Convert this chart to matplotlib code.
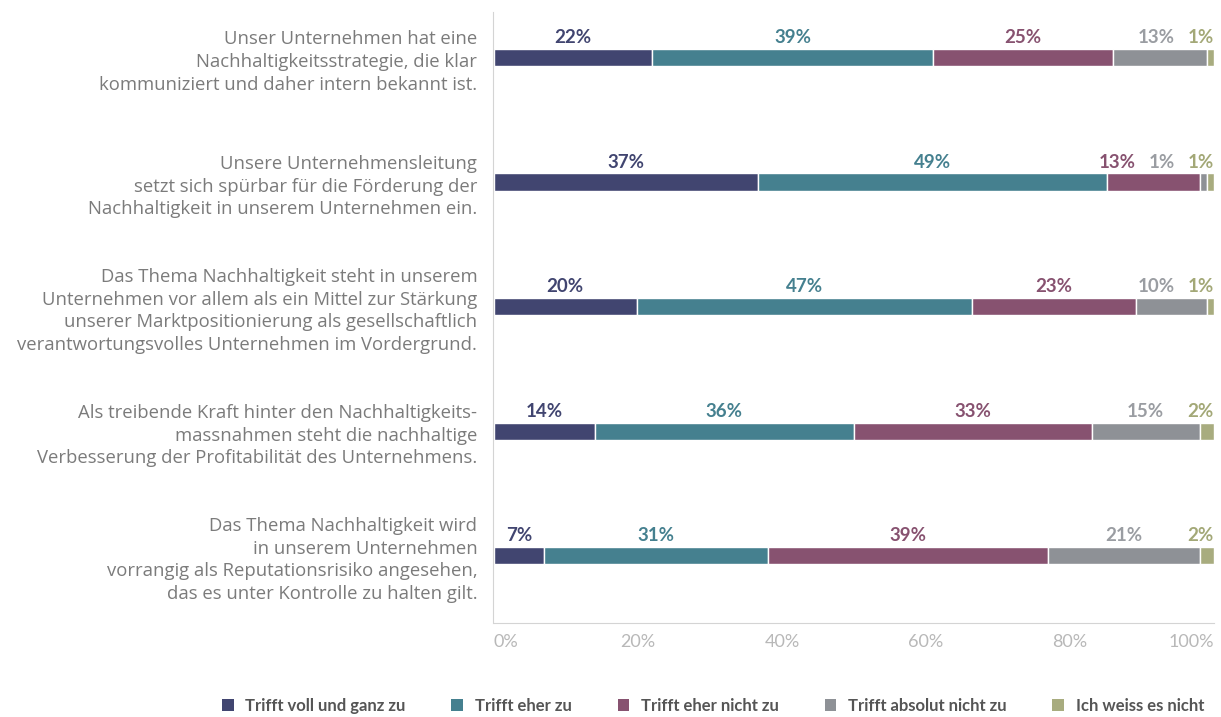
import numpy as np
import matplotlib.pyplot as plt
from matplotlib.patches import Patch

statements = [
    "Unser Unternehmen hat eine\nNachhaltigkeitsstrategie, die klar\nkommuniziert und daher intern bekannt ist.",
    "Unsere Unternehmensleitung\nsetzt sich spürbar für die Förderung der\nNachhaltigkeit in unserem Unternehmen ein.",
    "Das Thema Nachhaltigkeit steht in unserem\nUnternehmen vor allem als ein Mittel zur Stärkung\nunserer Marktpositionierung als gesellschaftlich\nverantwortungsvolles Unternehmen im Vordergrund.",
    "Als treibende Kraft hinter den Nachhaltigkeits-\nmassnahmen steht die nachhaltige\nVerbesserung der Profitabilität des Unternehmens.",
    "Das Thema Nachhaltigkeit wird\nin unserem Unternehmen\nvorrangig als Reputationsrisiko angesehen,\ndas es unter Kontrolle zu halten gilt.",
]
categories = ["Trifft voll und ganz zu", "Trifft eher zu", "Trifft eher nicht zu",
              "Trifft absolut nicht zu", "Ich weiss es nicht"]

voll = [22, 37, 20, 14, 7]
eher = [39, 49, 47, 36, 31]
eher_nicht = [25, 13, 23, 33, 39]
absolut_nicht = [13, 1, 10, 15, 21]
weiss_nicht = [1, 1, 1, 2, 2]

xticks = [0, 20, 40, 60, 80, 100]
xticklabels = ["0%", "20%", "40%", "60%", "80%", "100%"]

colors = ["#414570", "#45808f", "#875270", "#8e9196", "#a8ac7f"]
text_colors = ["#414570", "#45808f", "#875270", "#9a9da2", "#a3a877"]

values = np.array([voll, eher, eher_nicht, absolut_nicht, weiss_nicht], dtype=float).T
shares = values / values.sum(axis=1, keepdims=True) * 100
lefts = np.cumsum(shares, axis=1) - shares
rows = np.arange(len(statements))
bar_h = 0.14

fig = plt.figure(figsize=(12.21, 7.17), dpi=100)
ax = fig.add_axes([494 / 1221, 1 - 623 / 717, 720 / 1221, 611 / 717])

for j in range(len(categories)):
    ax.barh(rows, shares[:, j], left=lefts[:, j], height=bar_h, color=colors[j],
            edgecolor="white", linewidth=1)

ax.set_xlim(0, 100)
ax.set_ylim(4.54, -0.367)

for s in ["top", "right"]:
    ax.spines[s].set_visible(False)
ax.spines["left"].set_color("#d4d4d4")
ax.spines["bottom"].set_color("#d4d4d4")
ax.spines["left"].set_position(("outward", 1))

ax.set_xticks(xticks)
ax.set_xticklabels(xticklabels, fontfamily="Lato", fontsize=13, color="#b8b8b8")
ax.get_xticklabels()[0].set_ha("left")
ax.get_xticklabels()[-1].set_ha("right")
ax.tick_params(axis="x", length=0, pad=8)

ax.set_yticks(rows)
ax.set_yticklabels(statements, fontfamily="Open Sans", fontsize=13.3, color="#7b7b7b")
ax.tick_params(axis="y", length=0, pad=11)
for t in ax.get_yticklabels():
    t.set_linespacing(1.33)
    t.set_multialignment("right")

# value labels above each segment, pushed left where they would collide
fig.canvas.draw()
renderer = fig.canvas.get_renderer()
px_per_unit = ax.bbox.width / 100
gap = 13 / px_per_unit
for i in rows:
    texts = []
    for j in range(len(categories)):
        t = ax.annotate(f"{int(values[i, j])}%", (lefts[i, j] + shares[i, j] / 2, i - bar_h / 2),
                        xytext=(0, 2), textcoords="offset points", ha="center", va="bottom",
                        fontfamily="Lato", fontweight="bold", fontsize=13.5, color=text_colors[j])
        texts.append(t)
    limit = 100
    for j in range(len(categories) - 1, -1, -1):
        t = texts[j]
        w = t.get_window_extent(renderer).width / px_per_unit
        cx = lefts[i, j] + shares[i, j] / 2
        if cx + w / 2 > limit:
            cx = limit - w / 2
            t.xy = (cx, t.xy[1])
        limit = cx - w / 2 - gap

handles = [Patch(facecolor=c, edgecolor="none") for c in colors]
fig.legend(handles, categories, loc="center", bbox_to_anchor=(713 / 1221, 1 - 706 / 717),
           ncol=5, frameon=False, handlelength=0.7, handleheight=0.7, handletextpad=0.7,
           columnspacing=2.75, labelcolor="#555555", borderpad=0, borderaxespad=0,
           prop={"family": "Lato", "weight": "bold", "size": 12})

fig.savefig("out.png", dpi=100)
